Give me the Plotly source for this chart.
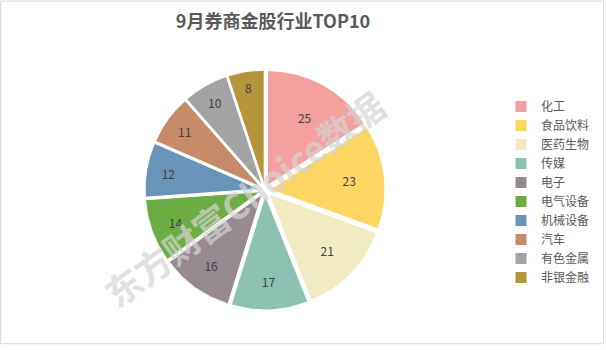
import plotly.graph_objects as go

categories = ["化工", "食品饮料", "医药生物", "传媒", "电子", "电气设备", "机械设备", "汽车", "有色金属", "非银金融"]
values = [25, 23, 21, 17, 16, 14, 12, 11, 10, 8]
colors = ["#F4A09E", "#FDD663", "#F2EAC3", "#8DC2B2", "#968A90", "#6CAC43", "#6A93BA", "#C68C6A", "#A3A3A3", "#B4953B"]

W, H = 606, 350
cx, cy, r = 265, 190, 120

fig = go.Figure(go.Pie(
    labels=categories, values=values, sort=False, direction="clockwise", rotation=0,
    marker=dict(colors=colors, line=dict(color="white", width=1)),
    pull=[0.045] * len(values),
    text=[str(v) for v in values], textinfo="text", textposition="inside",
    insidetextorientation="horizontal",
    textfont=dict(family="Noto Sans CJK SC", size=12, color="#404040"),
    domain=dict(x=[(cx - r) / W, (cx + r) / W], y=[(H - cy - r) / H, (H - cy + r) / H]),
    hoverinfo="label+value",
))

fig.update_layout(
    width=W, height=H, margin=dict(l=0, r=0, t=0, b=0),
    paper_bgcolor="white", plot_bgcolor="white",
    font=dict(family="Noto Sans CJK SC", color="#595959"),
    title=dict(text="<b>9月券商金股行业TOP10</b>", x=273 / W, xanchor="center", y=1 - 22 / H, yanchor="middle",
               font=dict(size=18, color="#595959")),
    legend=dict(x=501 / W, xanchor="left", y=1 - 92 / H, yanchor="top",
                font=dict(size=12, color="#595959"), itemwidth=30, tracegroupgap=0,
                bgcolor="rgba(0,0,0,0)"),
    shapes=[dict(type="rect", xref="paper", yref="paper", x0=0.001, y0=0.018, x1=0.996, y1=0.997,
                 line=dict(color="#D9D9D9", width=1))],
    annotations=[dict(text="<b>东方财富Choice数据</b>", x=243 / W, y=1 - 198 / H, xref="paper", yref="paper",
                      showarrow=False, textangle=-36, opacity=0.7,
                      font=dict(size=36, color="#D4D4D4", family="Noto Sans CJK SC"))],
)

fig.write_html("out.html", config={"displayModeBar": False},
               post_script="document.body.style.margin='0';document.body.style.padding='0';")
